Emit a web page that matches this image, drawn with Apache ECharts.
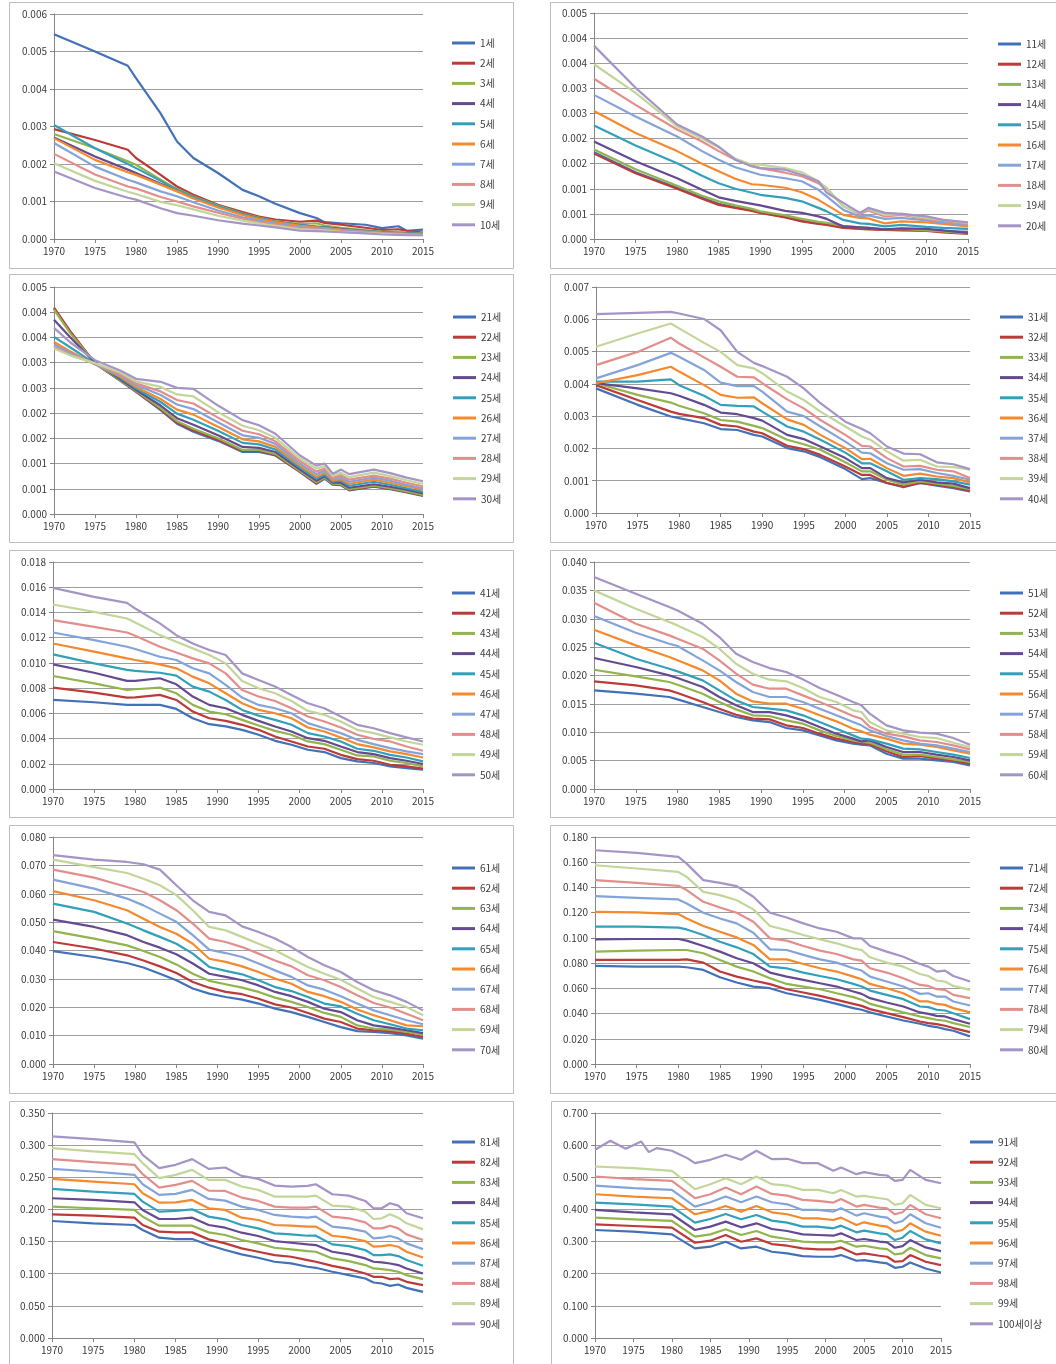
<!DOCTYPE html>
<html><head><meta charset="utf-8">
<script src="https://cdn.jsdelivr.net/npm/echarts@6/dist/echarts.min.js"></script>
<style>html,body{margin:0;padding:0;background:#fff;}#c{width:1056px;height:1364px;}</style>
</head><body><div id="c"></div>
<script>
// ---------- DATA ----------
const yearTicks = ['1970','1975','1980','1985','1990','1995','2000','2005','2010','2015'];

const ages1_10 = ['1세','2세','3세','4세','5세','6세','7세','8세','9세','10세'];
const years1_10 = [1970,1975,1979,1980,1983,1985,1987,1990,1993,1995,1997,2000,2002,2003,2005,2008,2010,2012,2013,2015];
const rates1_10 = [
[5.46e-3,5.00e-3,4.62e-3,4.29e-3,3.35e-3,2.60e-3,2.16e-3,1.76e-3,1.31e-3,1.14e-3,0.94e-3,0.69e-3,0.56e-3,0.45e-3,0.42e-3,0.38e-3,0.29e-3,0.34e-3,0.22e-3,0.25e-3],
[2.93e-3,2.64e-3,2.38e-3,2.16e-3,1.71e-3,1.40e-3,1.18e-3,0.91e-3,0.72e-3,0.60e-3,0.52e-3,0.46e-3,0.49e-3,0.43e-3,0.38e-3,0.30e-3,0.24e-3,0.26e-3,0.22e-3,0.17e-3],
[2.80e-3,2.42e-3,2.07e-3,1.98e-3,1.58e-3,1.33e-3,1.13e-3,0.89e-3,0.68e-3,0.57e-3,0.48e-3,0.40e-3,0.42e-3,0.36e-3,0.30e-3,0.24e-3,0.20e-3,0.19e-3,0.17e-3,0.15e-3],
[2.71e-3,2.20e-3,1.85e-3,1.76e-3,1.47e-3,1.31e-3,1.10e-3,0.86e-3,0.66e-3,0.55e-3,0.46e-3,0.37e-3,0.33e-3,0.31e-3,0.27e-3,0.21e-3,0.18e-3,0.16e-3,0.15e-3,0.13e-3],
[3.04e-3,2.42e-3,2.00e-3,1.89e-3,1.55e-3,1.31e-3,1.12e-3,0.87e-3,0.66e-3,0.55e-3,0.46e-3,0.37e-3,0.32e-3,0.30e-3,0.26e-3,0.21e-3,0.17e-3,0.16e-3,0.15e-3,0.13e-3],
[2.69e-3,2.11e-3,1.78e-3,1.71e-3,1.45e-3,1.27e-3,1.08e-3,0.84e-3,0.64e-3,0.53e-3,0.45e-3,0.35e-3,0.31e-3,0.29e-3,0.25e-3,0.20e-3,0.17e-3,0.15e-3,0.14e-3,0.12e-3],
[2.56e-3,1.93e-3,1.58e-3,1.51e-3,1.27e-3,1.14e-3,0.98e-3,0.76e-3,0.58e-3,0.49e-3,0.41e-3,0.32e-3,0.28e-3,0.27e-3,0.23e-3,0.19e-3,0.16e-3,0.14e-3,0.13e-3,0.12e-3],
[2.27e-3,1.72e-3,1.40e-3,1.35e-3,1.12e-3,1.00e-3,0.87e-3,0.70e-3,0.54e-3,0.45e-3,0.38e-3,0.29e-3,0.26e-3,0.25e-3,0.21e-3,0.17e-3,0.15e-3,0.13e-3,0.12e-3,0.11e-3],
[2.02e-3,1.55e-3,1.26e-3,1.20e-3,0.99e-3,0.90e-3,0.79e-3,0.62e-3,0.49e-3,0.41e-3,0.35e-3,0.26e-3,0.24e-3,0.23e-3,0.19e-3,0.16e-3,0.14e-3,0.12e-3,0.11e-3,0.10e-3],
[1.80e-3,1.36e-3,1.10e-3,1.05e-3,0.82e-3,0.69e-3,0.62e-3,0.50e-3,0.41e-3,0.36e-3,0.31e-3,0.22e-3,0.21e-3,0.20e-3,0.18e-3,0.15e-3,0.12e-3,0.11e-3,0.10e-3,0.10e-3]
];

const ages11_20 = ['11세','12세','13세','14세','15세','16세','17세','18세','19세','20세'];
const years11_20 = [1970,1975,1980,1983,1985,1987,1989,1990,1993,1995,1997,1998,2000,2002,2003,2005,2007,2010,2012,2015];
const rates11_20 = [
[1.73e-3,1.33e-3,1.02e-3,0.82e-3,0.70e-3,0.63e-3,0.57e-3,0.53e-3,0.44e-3,0.36e-3,0.31e-3,0.29e-3,0.23e-3,0.21e-3,0.20e-3,0.19e-3,0.19e-3,0.18e-3,0.16e-3,0.14e-3],
[1.70e-3,1.31e-3,1.00e-3,0.80e-3,0.68e-3,0.62e-3,0.56e-3,0.52e-3,0.43e-3,0.35e-3,0.30e-3,0.28e-3,0.22e-3,0.20e-3,0.19e-3,0.18e-3,0.17e-3,0.16e-3,0.13e-3,0.10e-3],
[1.78e-3,1.39e-3,1.06e-3,0.86e-3,0.75e-3,0.67e-3,0.60e-3,0.55e-3,0.47e-3,0.40e-3,0.34e-3,0.32e-3,0.26e-3,0.23e-3,0.22e-3,0.19e-3,0.20e-3,0.17e-3,0.15e-3,0.11e-3],
[1.94e-3,1.55e-3,1.21e-3,0.98e-3,0.83e-3,0.76e-3,0.70e-3,0.67e-3,0.56e-3,0.52e-3,0.45e-3,0.40e-3,0.25e-3,0.23e-3,0.22e-3,0.19e-3,0.21e-3,0.20e-3,0.17e-3,0.12e-3],
[2.26e-3,1.86e-3,1.51e-3,1.26e-3,1.11e-3,1.00e-3,0.92e-3,0.88e-3,0.82e-3,0.75e-3,0.62e-3,0.55e-3,0.38e-3,0.31e-3,0.30e-3,0.25e-3,0.28e-3,0.24e-3,0.22e-3,0.20e-3],
[2.55e-3,2.11e-3,1.75e-3,1.50e-3,1.35e-3,1.20e-3,1.09e-3,1.08e-3,1.02e-3,0.93e-3,0.78e-3,0.68e-3,0.48e-3,0.42e-3,0.41e-3,0.31e-3,0.35e-3,0.33e-3,0.30e-3,0.25e-3],
[2.87e-3,2.44e-3,2.04e-3,1.75e-3,1.58e-3,1.43e-3,1.33e-3,1.28e-3,1.21e-3,1.15e-3,0.98e-3,0.85e-3,0.58e-3,0.45e-3,0.47e-3,0.40e-3,0.42e-3,0.37e-3,0.33e-3,0.28e-3],
[3.19e-3,2.67e-3,2.18e-3,1.94e-3,1.75e-3,1.58e-3,1.45e-3,1.41e-3,1.32e-3,1.25e-3,1.11e-3,1.00e-3,0.65e-3,0.50e-3,0.57e-3,0.45e-3,0.48e-3,0.40e-3,0.36e-3,0.30e-3],
[3.48e-3,2.91e-3,2.24e-3,2.00e-3,1.82e-3,1.60e-3,1.48e-3,1.48e-3,1.41e-3,1.33e-3,1.15e-3,1.02e-3,0.65e-3,0.52e-3,0.60e-3,0.48e-3,0.50e-3,0.42e-3,0.38e-3,0.32e-3],
[3.85e-3,3.01e-3,2.28e-3,2.04e-3,1.84e-3,1.58e-3,1.45e-3,1.41e-3,1.38e-3,1.28e-3,1.15e-3,0.92e-3,0.72e-3,0.52e-3,0.62e-3,0.52e-3,0.50e-3,0.45e-3,0.38e-3,0.33e-3]
];

const ages21_30 = ['21세','22세','23세','24세','25세','26세','27세','28세','29세','30세'];
const years21_30 = [1970,1972,1975,1978,1980,1983,1985,1987,1990,1993,1995,1997,2000,2002,2003,2004,2005,2006,2009,2011,2013,2015];
const rates21_30 = [
[4.07e-3,3.60e-3,2.98e-3,2.65e-3,2.42e-3,2.06e-3,1.79e-3,1.63e-3,1.45e-3,1.23e-3,1.23e-3,1.16e-3,0.83e-3,0.60e-3,0.70e-3,0.58e-3,0.57e-3,0.47e-3,0.54e-3,0.49e-3,0.43e-3,0.36e-3],
[4.09e-3,3.62e-3,2.99e-3,2.66e-3,2.43e-3,2.08e-3,1.81e-3,1.66e-3,1.47e-3,1.25e-3,1.25e-3,1.17e-3,0.84e-3,0.61e-3,0.71e-3,0.59e-3,0.58e-3,0.48e-3,0.55e-3,0.50e-3,0.44e-3,0.37e-3],
[4.05e-3,3.58e-3,2.99e-3,2.66e-3,2.44e-3,2.10e-3,1.84e-3,1.69e-3,1.50e-3,1.27e-3,1.27e-3,1.19e-3,0.85e-3,0.63e-3,0.72e-3,0.60e-3,0.59e-3,0.49e-3,0.56e-3,0.51e-3,0.45e-3,0.38e-3],
[3.85e-3,3.50e-3,3.00e-3,2.68e-3,2.46e-3,2.15e-3,1.90e-3,1.77e-3,1.56e-3,1.33e-3,1.31e-3,1.23e-3,0.88e-3,0.66e-3,0.75e-3,0.62e-3,0.62e-3,0.52e-3,0.59e-3,0.54e-3,0.48e-3,0.41e-3],
[3.51e-3,3.30e-3,2.98e-3,2.71e-3,2.49e-3,2.22e-3,1.99e-3,1.87e-3,1.65e-3,1.41e-3,1.38e-3,1.28e-3,0.92e-3,0.70e-3,0.78e-3,0.64e-3,0.66e-3,0.56e-3,0.64e-3,0.58e-3,0.51e-3,0.44e-3],
[3.41e-3,3.22e-3,2.97e-3,2.73e-3,2.52e-3,2.28e-3,2.07e-3,1.97e-3,1.73e-3,1.48e-3,1.44e-3,1.33e-3,0.96e-3,0.74e-3,0.82e-3,0.67e-3,0.69e-3,0.60e-3,0.68e-3,0.62e-3,0.55e-3,0.48e-3],
[3.36e-3,3.19e-3,2.97e-3,2.76e-3,2.56e-3,2.36e-3,2.17e-3,2.08e-3,1.82e-3,1.56e-3,1.51e-3,1.39e-3,1.00e-3,0.79e-3,0.86e-3,0.70e-3,0.73e-3,0.64e-3,0.72e-3,0.66e-3,0.58e-3,0.51e-3],
[3.31e-3,3.16e-3,2.98e-3,2.78e-3,2.59e-3,2.43e-3,2.26e-3,2.19e-3,1.91e-3,1.65e-3,1.58e-3,1.44e-3,1.05e-3,0.84e-3,0.90e-3,0.72e-3,0.77e-3,0.68e-3,0.76e-3,0.70e-3,0.62e-3,0.55e-3],
[3.28e-3,3.14e-3,2.99e-3,2.81e-3,2.63e-3,2.52e-3,2.37e-3,2.33e-3,2.02e-3,1.75e-3,1.66e-3,1.51e-3,1.10e-3,0.90e-3,0.95e-3,0.76e-3,0.82e-3,0.73e-3,0.82e-3,0.75e-3,0.67e-3,0.60e-3],
[3.69e-3,3.40e-3,3.05e-3,2.85e-3,2.68e-3,2.62e-3,2.50e-3,2.48e-3,2.15e-3,1.86e-3,1.76e-3,1.59e-3,1.16e-3,0.96e-3,1.00e-3,0.80e-3,0.88e-3,0.79e-3,0.88e-3,0.81e-3,0.72e-3,0.65e-3]
];

const ages31_40 = ['31세','32세','33세','34세','35세','36세','37세','38세','39세','40세'];
const years31_40 = [1970,1975,1979,1980,1983,1985,1987,1989,1990,1993,1995,1997,2000,2002,2003,2005,2007,2009,2011,2013,2015];
const rates31_40 = [
[3.86e-3,3.35e-3,2.99e-3,2.94e-3,2.78e-3,2.60e-3,2.57e-3,2.42e-3,2.37e-3,2.01e-3,1.91e-3,1.73e-3,1.36e-3,1.05e-3,1.08e-3,0.93e-3,0.80e-3,0.93e-3,0.85e-3,0.77e-3,0.67e-3],
[3.96e-3,3.50e-3,3.14e-3,3.07e-3,2.94e-3,2.73e-3,2.68e-3,2.52e-3,2.47e-3,2.08e-3,1.98e-3,1.80e-3,1.44e-3,1.18e-3,1.18e-3,0.93e-3,0.82e-3,0.93e-3,0.88e-3,0.80e-3,0.69e-3],
[4.02e-3,3.66e-3,3.42e-3,3.32e-3,3.09e-3,2.88e-3,2.83e-3,2.70e-3,2.63e-3,2.27e-3,2.13e-3,1.96e-3,1.57e-3,1.29e-3,1.29e-3,1.03e-3,0.88e-3,0.98e-3,0.91e-3,0.84e-3,0.74e-3],
[4.02e-3,3.86e-3,3.71e-3,3.63e-3,3.35e-3,3.11e-3,3.06e-3,2.94e-3,2.86e-3,2.42e-3,2.29e-3,2.06e-3,1.70e-3,1.39e-3,1.39e-3,1.08e-3,0.95e-3,1.03e-3,0.95e-3,0.91e-3,0.77e-3],
[4.07e-3,4.07e-3,4.14e-3,3.96e-3,3.63e-3,3.35e-3,3.32e-3,3.30e-3,3.14e-3,2.68e-3,2.52e-3,2.27e-3,1.87e-3,1.54e-3,1.54e-3,1.29e-3,1.03e-3,1.08e-3,1.05e-3,0.98e-3,0.88e-3],
[4.02e-3,4.27e-3,4.53e-3,4.38e-3,3.96e-3,3.66e-3,3.57e-3,3.58e-3,3.40e-3,2.90e-3,2.73e-3,2.42e-3,2.01e-3,1.67e-3,1.68e-3,1.39e-3,1.15e-3,1.22e-3,1.13e-3,1.08e-3,0.95e-3],
[4.17e-3,4.58e-3,4.96e-3,4.84e-3,4.43e-3,4.04e-3,3.93e-3,3.93e-3,3.76e-3,3.14e-3,3.00e-3,2.68e-3,2.21e-3,1.87e-3,1.85e-3,1.54e-3,1.34e-3,1.36e-3,1.24e-3,1.15e-3,1.03e-3],
[4.58e-3,4.99e-3,5.43e-3,5.25e-3,4.82e-3,4.53e-3,4.22e-3,4.20e-3,4.02e-3,3.52e-3,3.24e-3,2.88e-3,2.42e-3,2.08e-3,2.06e-3,1.70e-3,1.44e-3,1.46e-3,1.34e-3,1.29e-3,1.08e-3],
[5.15e-3,5.56e-3,5.87e-3,5.72e-3,5.27e-3,4.99e-3,4.58e-3,4.48e-3,4.33e-3,3.76e-3,3.50e-3,3.14e-3,2.68e-3,2.37e-3,2.27e-3,1.91e-3,1.62e-3,1.65e-3,1.44e-3,1.42e-3,1.34e-3],
[6.16e-3,6.20e-3,6.23e-3,6.18e-3,6.01e-3,5.66e-3,4.99e-3,4.65e-3,4.55e-3,4.22e-3,3.86e-3,3.40e-3,2.83e-3,2.60e-3,2.47e-3,2.06e-3,1.84e-3,1.82e-3,1.57e-3,1.51e-3,1.36e-3]
];

const ages41_50 = ['41세','42세','43세','44세','45세','46세','47세','48세','49세','50세'];
const years41_50 = [1970,1975,1979,1980,1983,1985,1987,1989,1991,1993,1995,1997,1999,2001,2003,2005,2007,2009,2011,2013,2015];
const rates41_50 = [
[7.06e-3,6.88e-3,6.67e-3,6.67e-3,6.67e-3,6.35e-3,5.61e-3,5.14e-3,4.96e-3,4.69e-3,4.30e-3,3.82e-3,3.51e-3,3.11e-3,2.93e-3,2.45e-3,2.19e-3,2.06e-3,1.79e-3,1.66e-3,1.53e-3],
[8.04e-3,7.64e-3,7.25e-3,7.27e-3,7.46e-3,7.06e-3,6.14e-3,5.61e-3,5.40e-3,5.09e-3,4.69e-3,4.16e-3,3.77e-3,3.37e-3,3.19e-3,2.71e-3,2.37e-3,2.24e-3,1.92e-3,1.79e-3,1.61e-3],
[8.96e-3,8.38e-3,7.85e-3,7.91e-3,8.04e-3,7.59e-3,6.67e-3,6.14e-3,5.93e-3,5.48e-3,5.03e-3,4.61e-3,4.30e-3,3.77e-3,3.56e-3,3.11e-3,2.66e-3,2.58e-3,2.24e-3,2.06e-3,1.79e-3],
[9.88e-3,9.22e-3,8.57e-3,8.57e-3,8.78e-3,8.30e-3,7.33e-3,6.67e-3,6.40e-3,5.88e-3,5.40e-3,4.96e-3,4.56e-3,4.03e-3,3.82e-3,3.37e-3,2.93e-3,2.77e-3,2.45e-3,2.24e-3,1.98e-3],
[10.67e-3,9.96e-3,9.44e-3,9.36e-3,9.22e-3,8.99e-3,8.12e-3,7.72e-3,7.06e-3,6.27e-3,5.82e-3,5.48e-3,5.09e-3,4.43e-3,4.16e-3,3.77e-3,3.19e-3,3.03e-3,2.71e-3,2.50e-3,2.19e-3],
[11.54e-3,10.89e-3,10.36e-3,10.23e-3,9.88e-3,9.57e-3,8.91e-3,8.38e-3,7.59e-3,6.80e-3,6.27e-3,6.01e-3,5.61e-3,4.88e-3,4.56e-3,4.09e-3,3.56e-3,3.30e-3,2.98e-3,2.77e-3,2.50e-3],
[12.41e-3,11.81e-3,11.28e-3,11.10e-3,10.49e-3,10.23e-3,9.57e-3,9.17e-3,8.25e-3,7.25e-3,6.67e-3,6.40e-3,6.01e-3,5.22e-3,4.82e-3,4.43e-3,3.90e-3,3.56e-3,3.24e-3,2.98e-3,2.77e-3],
[13.39e-3,12.86e-3,12.41e-3,12.15e-3,11.28e-3,10.83e-3,10.36e-3,9.96e-3,9.17e-3,7.85e-3,7.33e-3,6.98e-3,6.40e-3,5.75e-3,5.35e-3,4.88e-3,4.30e-3,3.98e-3,3.77e-3,3.37e-3,3.03e-3],
[14.63e-3,14.05e-3,13.52e-3,13.20e-3,12.20e-3,11.68e-3,11.15e-3,10.62e-3,9.96e-3,8.57e-3,7.99e-3,7.59e-3,6.98e-3,6.19e-3,5.88e-3,5.35e-3,4.69e-3,4.43e-3,4.09e-3,3.77e-3,3.51e-3],
[15.95e-3,15.23e-3,14.76e-3,14.31e-3,13.13e-3,12.20e-3,11.54e-3,11.02e-3,10.62e-3,9.17e-3,8.65e-3,8.12e-3,7.46e-3,6.80e-3,6.40e-3,5.75e-3,5.09e-3,4.82e-3,4.43e-3,4.09e-3,3.77e-3]
];

const ages51_60 = ['51세','52세','53세','54세','55세','56세','57세','58세','59세','60세'];
const years51_60 = [1970,1975,1979,1980,1983,1985,1987,1989,1991,1993,1995,1997,1999,2001,2002,2003,2005,2007,2009,2011,2013,2015];
const rates51_60 = [
[17.38e-3,16.79e-3,16.21e-3,15.80e-3,14.45e-3,13.56e-3,12.68e-3,12.10e-3,11.80e-3,10.75e-3,10.33e-3,9.45e-3,8.57e-3,7.99e-3,7.81e-3,7.69e-3,6.22e-3,5.34e-3,5.34e-3,5.05e-3,4.76e-3,4.17e-3],
[18.97e-3,18.26e-3,17.38e-3,16.91e-3,15.33e-3,14.15e-3,13.09e-3,12.39e-3,12.27e-3,11.22e-3,10.75e-3,9.75e-3,8.87e-3,8.28e-3,7.99e-3,7.99e-3,6.64e-3,5.64e-3,5.81e-3,5.34e-3,5.05e-3,4.46e-3],
[21.02e-3,19.85e-3,18.85e-3,18.38e-3,16.79e-3,15.33e-3,14.03e-3,12.98e-3,12.86e-3,12.10e-3,11.51e-3,10.33e-3,9.34e-3,8.57e-3,8.28e-3,8.16e-3,6.99e-3,6.05e-3,6.05e-3,5.64e-3,5.23e-3,4.76e-3],
[23.08e-3,21.49e-3,20.02e-3,19.55e-3,17.97e-3,16.21e-3,14.74e-3,13.56e-3,13.56e-3,12.98e-3,12.10e-3,10.92e-3,9.75e-3,8.87e-3,8.40e-3,8.57e-3,7.40e-3,6.52e-3,6.52e-3,6.05e-3,5.64e-3,5.05e-3],
[25.78e-3,22.96e-3,21.20e-3,20.73e-3,19.14e-3,17.38e-3,15.62e-3,14.45e-3,14.15e-3,13.86e-3,12.98e-3,11.80e-3,10.63e-3,9.45e-3,8.87e-3,8.75e-3,7.99e-3,7.11e-3,6.99e-3,6.52e-3,6.05e-3,5.46e-3],
[28.07e-3,25.31e-3,23.25e-3,22.67e-3,20.90e-3,19.14e-3,16.79e-3,15.44e-3,15.03e-3,15.03e-3,14.15e-3,12.98e-3,11.92e-3,10.63e-3,10.16e-3,9.57e-3,8.87e-3,7.99e-3,7.81e-3,7.40e-3,6.81e-3,6.22e-3],
[30.48e-3,27.54e-3,25.60e-3,25.19e-3,22.67e-3,20.90e-3,18.85e-3,17.09e-3,16.21e-3,16.21e-3,15.33e-3,14.15e-3,12.98e-3,11.80e-3,11.22e-3,10.33e-3,9.34e-3,8.57e-3,7.99e-3,7.69e-3,7.11e-3,6.52e-3],
[32.82e-3,29.12e-3,27.07e-3,26.48e-3,24.72e-3,22.67e-3,20.32e-3,18.38e-3,17.67e-3,17.67e-3,16.50e-3,15.33e-3,14.15e-3,12.86e-3,12.39e-3,10.92e-3,9.75e-3,9.28e-3,8.57e-3,8.28e-3,7.69e-3,6.99e-3],
[35.00e-3,31.77e-3,29.42e-3,28.83e-3,26.78e-3,24.72e-3,22.08e-3,20.32e-3,19.26e-3,18.97e-3,17.79e-3,16.21e-3,15.33e-3,13.86e-3,13.56e-3,11.80e-3,10.33e-3,9.75e-3,9.16e-3,8.98e-3,8.16e-3,7.40e-3],
[37.35e-3,34.41e-3,32.06e-3,31.47e-3,29.12e-3,26.78e-3,23.84e-3,22.37e-3,21.31e-3,20.61e-3,19.32e-3,17.79e-3,16.62e-3,15.33e-3,14.74e-3,13.27e-3,11.22e-3,10.33e-3,9.92e-3,9.75e-3,8.98e-3,7.81e-3]
];

const ages61_70 = ['61세','62세','63세','64세','65세','66세','67세','68세','69세','70세'];
const years61_70 = [1970,1975,1979,1981,1983,1985,1987,1989,1991,1993,1995,1997,1999,2001,2003,2005,2007,2009,2011,2013,2015];
const rates61_70 = [
[39.8e-3,37.7e-3,35.6e-3,34.0e-3,31.8e-3,29.5e-3,26.6e-3,24.8e-3,23.6e-3,22.7e-3,21.3e-3,19.5e-3,18.3e-3,16.6e-3,14.8e-3,13.0e-3,11.6e-3,11.3e-3,10.9e-3,10.1e-3,8.9e-3],
[43.0e-3,40.7e-3,38.3e-3,36.5e-3,34.4e-3,32.1e-3,28.9e-3,26.9e-3,25.4e-3,24.6e-3,23.0e-3,21.0e-3,19.9e-3,18.0e-3,16.0e-3,14.8e-3,12.5e-3,11.9e-3,11.5e-3,10.7e-3,9.5e-3],
[46.8e-3,44.2e-3,41.8e-3,39.8e-3,37.7e-3,35.1e-3,31.8e-3,29.3e-3,28.1e-3,26.9e-3,25.4e-3,23.4e-3,21.9e-3,20.1e-3,18.0e-3,16.6e-3,13.6e-3,12.5e-3,12.1e-3,11.3e-3,10.3e-3],
[50.9e-3,48.3e-3,45.4e-3,43.0e-3,41.0e-3,38.7e-3,35.4e-3,31.8e-3,30.7e-3,29.5e-3,27.7e-3,25.4e-3,23.9e-3,21.9e-3,19.5e-3,18.3e-3,15.4e-3,13.6e-3,12.8e-3,11.9e-3,10.9e-3],
[56.5e-3,53.6e-3,49.5e-3,47.1e-3,44.8e-3,42.4e-3,38.9e-3,34.2e-3,32.8e-3,31.6e-3,29.5e-3,27.1e-3,25.7e-3,23.6e-3,21.3e-3,20.3e-3,17.7e-3,15.4e-3,14.0e-3,12.5e-3,11.9e-3],
[60.9e-3,57.7e-3,54.2e-3,51.2e-3,48.3e-3,45.9e-3,42.4e-3,37.1e-3,36.0e-3,34.4e-3,32.4e-3,30.1e-3,28.3e-3,25.4e-3,23.9e-3,21.9e-3,19.2e-3,17.2e-3,15.4e-3,13.6e-3,13.3e-3],
[65.0e-3,61.8e-3,58.3e-3,55.9e-3,53.0e-3,50.1e-3,45.4e-3,40.3e-3,39.1e-3,37.7e-3,35.4e-3,33.0e-3,30.7e-3,27.7e-3,26.2e-3,23.9e-3,21.3e-3,18.9e-3,17.2e-3,15.4e-3,14.0e-3],
[68.5e-3,65.7e-3,62.4e-3,60.6e-3,57.7e-3,54.2e-3,49.5e-3,44.2e-3,43.0e-3,41.2e-3,38.9e-3,36.5e-3,34.4e-3,31.3e-3,29.5e-3,27.1e-3,24.2e-3,21.5e-3,19.9e-3,17.7e-3,15.4e-3],
[72.0e-3,69.4e-3,67.3e-3,65.3e-3,63.0e-3,59.5e-3,54.2e-3,48.3e-3,47.1e-3,44.8e-3,42.4e-3,40.1e-3,37.1e-3,34.2e-3,31.8e-3,29.7e-3,26.6e-3,23.6e-3,21.9e-3,20.1e-3,17.2e-3],
[73.6e-3,72.0e-3,71.2e-3,70.4e-3,68.5e-3,63.0e-3,57.7e-3,53.6e-3,52.4e-3,48.5e-3,46.5e-3,44.2e-3,41.2e-3,37.7e-3,34.8e-3,32.4e-3,28.9e-3,26.0e-3,24.2e-3,21.9e-3,18.9e-3]
];

const ages71_80 = ['71세','72세','73세','74세','75세','76세','77세','78세','79세','80세'];
const years71_80 = [1970,1975,1980,1981,1983,1985,1987,1989,1991,1993,1995,1997,1999,2001,2002,2003,2005,2007,2009,2010,2011,2012,2013,2015];
const rates71_80 = [
[77.8e-3,77.2e-3,77.2e-3,76.7e-3,74.6e-3,68.8e-3,64.6e-3,61.4e-3,60.1e-3,56.1e-3,53.5e-3,50.9e-3,47.7e-3,44.3e-3,43.0e-3,40.9e-3,37.7e-3,34.5e-3,31.9e-3,30.3e-3,29.3e-3,27.7e-3,26.4e-3,21.9e-3],
[82.5e-3,82.5e-3,82.5e-3,83.0e-3,80.4e-3,73.3e-3,69.3e-3,66.2e-3,63.3e-3,59.3e-3,56.7e-3,54.0e-3,50.9e-3,47.7e-3,46.1e-3,43.5e-3,40.3e-3,37.2e-3,33.7e-3,32.4e-3,31.6e-3,30.3e-3,28.5e-3,25.3e-3],
[89.1e-3,89.9e-3,90.4e-3,90.4e-3,87.8e-3,82.5e-3,77.2e-3,73.3e-3,68.0e-3,63.5e-3,61.4e-3,59.3e-3,56.1e-3,53.0e-3,50.9e-3,47.7e-3,44.3e-3,40.9e-3,37.7e-3,36.4e-3,35.1e-3,34.3e-3,32.4e-3,29.3e-3],
[98.8e-3,99.1e-3,99.1e-3,97.8e-3,93.6e-3,89.1e-3,83.8e-3,79.9e-3,72.5e-3,69.3e-3,66.7e-3,64.0e-3,61.4e-3,57.5e-3,55.6e-3,52.2e-3,48.8e-3,45.6e-3,40.9e-3,39.8e-3,38.2e-3,37.7e-3,35.6e-3,31.9e-3],
[108.9e-3,108.9e-3,108.1e-3,106.7e-3,102.3e-3,97.0e-3,92.5e-3,87.2e-3,77.2e-3,75.9e-3,72.5e-3,69.8e-3,67.2e-3,63.5e-3,61.4e-3,58.2e-3,54.8e-3,51.4e-3,45.6e-3,45.1e-3,43.0e-3,42.4e-3,40.3e-3,35.6e-3],
[120.7e-3,120.2e-3,118.9e-3,115.4e-3,109.4e-3,104.9e-3,100.4e-3,94.4e-3,83.0e-3,83.0e-3,79.3e-3,75.9e-3,73.3e-3,69.3e-3,67.2e-3,63.5e-3,60.1e-3,56.1e-3,49.6e-3,49.6e-3,47.7e-3,46.9e-3,44.3e-3,40.9e-3],
[133.1e-3,131.8e-3,130.5e-3,127.3e-3,119.9e-3,115.4e-3,111.5e-3,104.1e-3,90.9e-3,90.4e-3,86.5e-3,83.0e-3,80.4e-3,75.9e-3,74.1e-3,69.3e-3,65.4e-3,61.4e-3,55.6e-3,56.1e-3,53.5e-3,53.5e-3,49.6e-3,46.4e-3],
[145.8e-3,143.6e-3,141.3e-3,137.9e-3,128.6e-3,124.1e-3,119.9e-3,112.8e-3,99.6e-3,97.8e-3,93.6e-3,89.9e-3,87.2e-3,83.0e-3,82.0e-3,75.9e-3,72.5e-3,68.0e-3,62.7e-3,61.9e-3,59.3e-3,58.8e-3,54.8e-3,52.2e-3],
[157.6e-3,155.0e-3,152.3e-3,148.4e-3,136.5e-3,133.9e-3,129.9e-3,122.6e-3,109.4e-3,106.2e-3,102.3e-3,98.8e-3,95.7e-3,91.7e-3,90.4e-3,84.6e-3,80.4e-3,77.2e-3,71.4e-3,69.8e-3,66.2e-3,65.4e-3,61.9e-3,58.8e-3],
[169.5e-3,167.4e-3,164.2e-3,158.9e-3,145.8e-3,143.6e-3,141.0e-3,132.6e-3,119.9e-3,116.2e-3,111.5e-3,107.5e-3,104.9e-3,99.6e-3,99.6e-3,93.6e-3,89.1e-3,85.1e-3,79.3e-3,77.2e-3,73.3e-3,74.1e-3,69.8e-3,65.4e-3]
];

const ages81_90 = ['81세','82세','83세','84세','85세','86세','87세','88세','89세','90세'];
const years81_90 = [1970,1975,1980,1981,1983,1985,1987,1989,1991,1993,1995,1997,1999,2001,2002,2004,2006,2008,2009,2010,2011,2012,2013,2015];
const rates81_90 = [
[182.0e-3,178.4e-3,175.8e-3,168.0e-3,156.0e-3,153.9e-3,153.9e-3,144.6e-3,136.8e-3,130.0e-3,124.8e-3,118.6e-3,116.0e-3,110.8e-3,109.2e-3,103.0e-3,97.8e-3,92.6e-3,86.3e-3,84.8e-3,81.1e-3,83.2e-3,78.0e-3,71.8e-3],
[192.4e-3,190.3e-3,187.2e-3,175.8e-3,165.4e-3,164.3e-3,164.3e-3,153.4e-3,147.2e-3,139.4e-3,134.2e-3,129.0e-3,126.4e-3,121.2e-3,118.6e-3,112.3e-3,107.1e-3,100.4e-3,95.2e-3,95.2e-3,91.5e-3,92.6e-3,87.4e-3,82.2e-3],
[204.4e-3,201.8e-3,199.2e-3,188.8e-3,174.7e-3,174.7e-3,174.7e-3,164.3e-3,160.2e-3,152.4e-3,147.2e-3,140.4e-3,137.8e-3,135.2e-3,134.2e-3,123.8e-3,119.6e-3,113.4e-3,108.2e-3,107.1e-3,105.6e-3,103.0e-3,97.8e-3,91.5e-3],
[217.4e-3,214.8e-3,211.1e-3,199.2e-3,185.1e-3,185.1e-3,187.2e-3,175.8e-3,171.6e-3,163.8e-3,158.6e-3,150.8e-3,148.2e-3,145.6e-3,144.6e-3,134.2e-3,130.0e-3,123.8e-3,118.6e-3,117.5e-3,115.9e-3,113.4e-3,108.2e-3,100.4e-3],
[231.9e-3,227.8e-3,224.1e-3,212.1e-3,196.6e-3,197.6e-3,200.2e-3,188.8e-3,184.6e-3,175.8e-3,170.6e-3,162.8e-3,161.2e-3,159.1e-3,159.1e-3,145.6e-3,143.0e-3,136.8e-3,129.0e-3,129.0e-3,130.0e-3,127.4e-3,121.2e-3,112.3e-3],
[247.5e-3,243.4e-3,239.2e-3,225.2e-3,210.6e-3,211.1e-3,214.8e-3,201.8e-3,199.2e-3,187.2e-3,183.6e-3,175.8e-3,174.7e-3,173.2e-3,173.2e-3,159.1e-3,156.0e-3,150.8e-3,142.0e-3,143.0e-3,144.6e-3,142.0e-3,134.2e-3,125.3e-3],
[263.1e-3,259.0e-3,253.8e-3,239.2e-3,222.6e-3,224.1e-3,230.4e-3,216.3e-3,213.7e-3,204.4e-3,199.2e-3,191.4e-3,188.8e-3,187.2e-3,188.8e-3,173.2e-3,170.6e-3,165.4e-3,155.0e-3,156.0e-3,158.6e-3,155.0e-3,147.2e-3,138.3e-3],
[278.2e-3,273.5e-3,269.4e-3,254.8e-3,234.0e-3,238.2e-3,244.4e-3,229.3e-3,228.8e-3,218.4e-3,213.2e-3,204.4e-3,202.8e-3,202.8e-3,204.4e-3,188.8e-3,186.2e-3,179.9e-3,170.6e-3,170.6e-3,174.7e-3,170.6e-3,161.2e-3,152.4e-3],
[295.4e-3,290.2e-3,286.0e-3,272.0e-3,248.6e-3,253.8e-3,261.6e-3,246.0e-3,246.0e-3,235.6e-3,230.4e-3,220.0e-3,220.0e-3,220.0e-3,221.5e-3,205.9e-3,204.4e-3,196.6e-3,185.1e-3,186.2e-3,192.4e-3,187.2e-3,178.4e-3,169.0e-3],
[313.6e-3,309.4e-3,304.2e-3,285.0e-3,264.2e-3,269.4e-3,278.2e-3,263.1e-3,265.2e-3,252.2e-3,247.5e-3,237.1e-3,235.6e-3,236.6e-3,239.2e-3,223.6e-3,221.5e-3,213.2e-3,201.8e-3,201.8e-3,209.6e-3,205.9e-3,194.0e-3,186.2e-3]
];

const ages91_100 = ['91세','92세','93세','94세','95세','96세','97세','98세','99세','100세이상'];
const years91_99 = [1970,1975,1980,1983,1985,1987,1989,1991,1993,1995,1997,1999,2001,2002,2004,2005,2007,2008,2009,2010,2011,2013,2015];
const years100 = [1970,1972,1974,1976,1977,1978,1980,1982,1983,1985,1987,1989,1991,1993,1995,1997,1999,2001,2002,2004,2005,2007,2008,2009,2010,2011,2013,2015];
const rates91_100 = [
[336.0e-3,330.8e-3,322.4e-3,278.8e-3,284.0e-3,299.6e-3,278.8e-3,284.0e-3,268.4e-3,263.1e-3,254.8e-3,252.8e-3,252.8e-3,258.0e-3,240.3e-3,242.4e-3,235.1e-3,232.0e-3,218.4e-3,221.6e-3,235.1e-3,216.4e-3,203.9e-3],
[353.7e-3,348.5e-3,343.3e-3,296.4e-3,302.7e-3,320.4e-3,299.6e-3,310.0e-3,292.3e-3,287.1e-3,278.8e-3,275.6e-3,275.6e-3,281.9e-3,260.0e-3,263.1e-3,255.9e-3,252.8e-3,237.2e-3,239.2e-3,258.0e-3,237.2e-3,226.8e-3],
[374.5e-3,369.3e-3,364.1e-3,315.2e-3,322.4e-3,338.1e-3,320.4e-3,332.8e-3,315.2e-3,307.9e-3,299.6e-3,297.5e-3,297.5e-3,302.7e-3,284.0e-3,287.1e-3,278.8e-3,276.7e-3,260.0e-3,263.1e-3,280.8e-3,258.0e-3,247.6e-3],
[398.4e-3,391.1e-3,384.9e-3,336.0e-3,346.4e-3,362.0e-3,344.3e-3,356.8e-3,339.1e-3,332.8e-3,322.4e-3,320.4e-3,318.3e-3,325.6e-3,304.8e-3,307.9e-3,299.6e-3,297.5e-3,280.8e-3,286.0e-3,304.8e-3,281.9e-3,270.4e-3],
[421.3e-3,416.0e-3,408.8e-3,358.9e-3,370.3e-3,385.9e-3,369.3e-3,382.8e-3,365.1e-3,358.9e-3,346.4e-3,346.4e-3,341.2e-3,349.5e-3,328.7e-3,333.9e-3,325.6e-3,322.4e-3,304.8e-3,312.1e-3,332.8e-3,306.8e-3,294.4e-3],
[447.3e-3,440.0e-3,434.8e-3,384.9e-3,395.3e-3,410.9e-3,393.2e-3,410.9e-3,391.1e-3,384.9e-3,372.4e-3,372.4e-3,367.2e-3,374.5e-3,351.6e-3,359.9e-3,349.5e-3,346.4e-3,330.8e-3,336.0e-3,356.8e-3,330.8e-3,318.3e-3],
[474.3e-3,466.0e-3,460.8e-3,408.8e-3,422.3e-3,440.0e-3,422.3e-3,440.0e-3,422.3e-3,416.0e-3,398.4e-3,398.4e-3,393.2e-3,403.6e-3,380.7e-3,388.0e-3,377.6e-3,374.5e-3,356.8e-3,364.1e-3,384.9e-3,356.8e-3,343.2e-3],
[502.4e-3,494.1e-3,488.9e-3,434.8e-3,447.3e-3,468.1e-3,447.3e-3,471.2e-3,448.3e-3,443.1e-3,429.6e-3,426.5e-3,421.3e-3,432.7e-3,408.8e-3,414.0e-3,405.7e-3,403.6e-3,384.9e-3,391.1e-3,414.0e-3,384.9e-3,372.4e-3],
[533.6e-3,528.4e-3,520.1e-3,462.9e-3,478.5e-3,497.2e-3,478.5e-3,502.4e-3,478.5e-3,474.3e-3,460.8e-3,460.8e-3,450.4e-3,460.8e-3,440.0e-3,442.1e-3,434.8e-3,431.7e-3,414.0e-3,419.2e-3,445.2e-3,414.0e-3,403.6e-3],
[585.6e-3,613.7e-3,588.7e-3,611.6e-3,578.3e-3,590.8e-3,582.5e-3,559.6e-3,544.0e-3,554.4e-3,570.0e-3,554.4e-3,582.5e-3,556.5e-3,557.5e-3,544.0e-3,544.0e-3,520.1e-3,530.5e-3,509.7e-3,515.9e-3,507.6e-3,505.5e-3,488.9e-3,492.0e-3,523.2e-3,492.0e-3,481.6e-3]
];

// ---------- STYLE / LAYOUT ----------
const COLORS = ['#4371B7','#BC3A37','#92B44E','#644A91','#33A0BA','#F4892E','#84A4D9','#E28E8B','#C2D699','#A594C6'];
const FONT = "'Noto Sans CJK KR','Noto Sans',sans-serif";
const TXT = '#3A3A3A';

const panels = [
  {years:years1_10,  names:ages1_10,  rates:rates1_10,  max:0.006,  step:0.001,  grid:[54,14,369,225],  leg:[452,36],  box:[9,2,504,266]},
  {years:years11_20, names:ages11_20, rates:rates11_20, max:0.0045, step:0.0005, grid:[594,13,374,226], leg:[998,37],  box:[550,2,530,266]},
  {years:years21_30, names:ages21_30, rates:rates21_30, max:0.0045, step:0.0005, grid:[54,287,369,227], leg:[453,310], box:[9,274,504,268]},
  {years:years31_40, names:ages31_40, rates:rates31_40, max:0.007,  step:0.001,  grid:[596,287,374,226],leg:[1000,310],box:[550,274,530,268]},
  {years:years41_50, names:ages41_50, rates:rates41_50, max:0.018,  step:0.002,  grid:[53,562,370,227], leg:[452,586], box:[9,550,504,267]},
  {years:years51_60, names:ages51_60, rates:rates51_60, max:0.040,  step:0.005,  grid:[594,562,376,227],leg:[1000,586],box:[550,550,530,267]},
  {years:years61_70, names:ages61_70, rates:rates61_70, max:0.080,  step:0.010,  grid:[53,837,370,227], leg:[452,861], box:[9,825,504,268]},
  {years:years71_80, names:ages71_80, rates:rates71_80, max:0.180,  step:0.020,  grid:[595,837,375,227],leg:[1000,861],box:[550,825,530,268]},
  {years:years81_90, names:ages81_90, rates:rates81_90, max:0.350,  step:0.050,  grid:[52,1113,371,225],leg:[452,1135],box:[9,1101,504,290]},
  {years:years91_99, names:ages91_100,rates:rates91_100,max:0.700,  step:0.100,  grid:[595,1113,346,225],leg:[970,1135],box:[551,1101,530,290], lastYears:years100}
];

const yFmt = v => (Math.round(v*1000 + 1e-9)/1000).toFixed(3);

const option = {animation:false, backgroundColor:'#fff', grid:[], xAxis:[], yAxis:[], legend:[], series:[], graphic:[]};

panels.forEach((p, i) => {
  option.graphic.push({type:'rect', silent:true, z:-1,
    shape:{x:p.box[0]+0.5, y:p.box[1]+0.5, width:p.box[2], height:p.box[3]},
    style:{fill:'#fff', stroke:'#BDBDBD', lineWidth:1}});
  option.grid.push({left:p.grid[0], top:p.grid[1], width:p.grid[2], height:p.grid[3]});
  option.xAxis.push({type:'value', gridIndex:i, min:1970, max:2015, interval:5,
    axisLine:{show:true, onZero:false, lineStyle:{color:'#858585', width:1}},
    axisTick:{show:true, length:4, lineStyle:{color:'#858585'}},
    splitLine:{show:false},
    axisLabel:{formatter:v => yearTicks.includes(String(v)) ? String(v) : '', color:TXT, fontSize:10, fontFamily:FONT, margin:7}});
  option.yAxis.push({type:'value', gridIndex:i, min:0, max:p.max, interval:p.step,
    axisLine:{show:true, lineStyle:{color:'#858585', width:1}},
    axisTick:{show:true, length:4, lineStyle:{color:'#858585'}},
    splitLine:{show:true, lineStyle:{color:'#9E9E9E', width:1}},
    axisLabel:{formatter:yFmt, color:TXT, fontSize:10, fontFamily:FONT, margin:7}});
  option.legend.push({orient:'vertical', left:p.leg[0], top:p.leg[1], padding:0, itemWidth:23, itemHeight:3, itemGap:6.2,
    icon:'rect', selectedMode:false, data:p.names,
    textStyle:{color:TXT, fontSize:10, fontFamily:FONT, lineHeight:14}});
  p.names.forEach((n, k) => {
    const yrs = (p.lastYears && k === p.names.length-1) ? p.lastYears : p.years;
    option.series.push({name:n, type:'line', xAxisIndex:i, yAxisIndex:i, symbol:'none', smooth:false,
      emphasis:{disabled:true},
      lineStyle:{width:2.2, color:COLORS[k]}, itemStyle:{color:COLORS[k]},
      data: yrs.map((y, j) => [y, p.rates[k][j]])});
  });
});

const chart = echarts.init(document.getElementById('c'), null, {renderer:'canvas'});
chart.setOption(option);
</script></body></html>
